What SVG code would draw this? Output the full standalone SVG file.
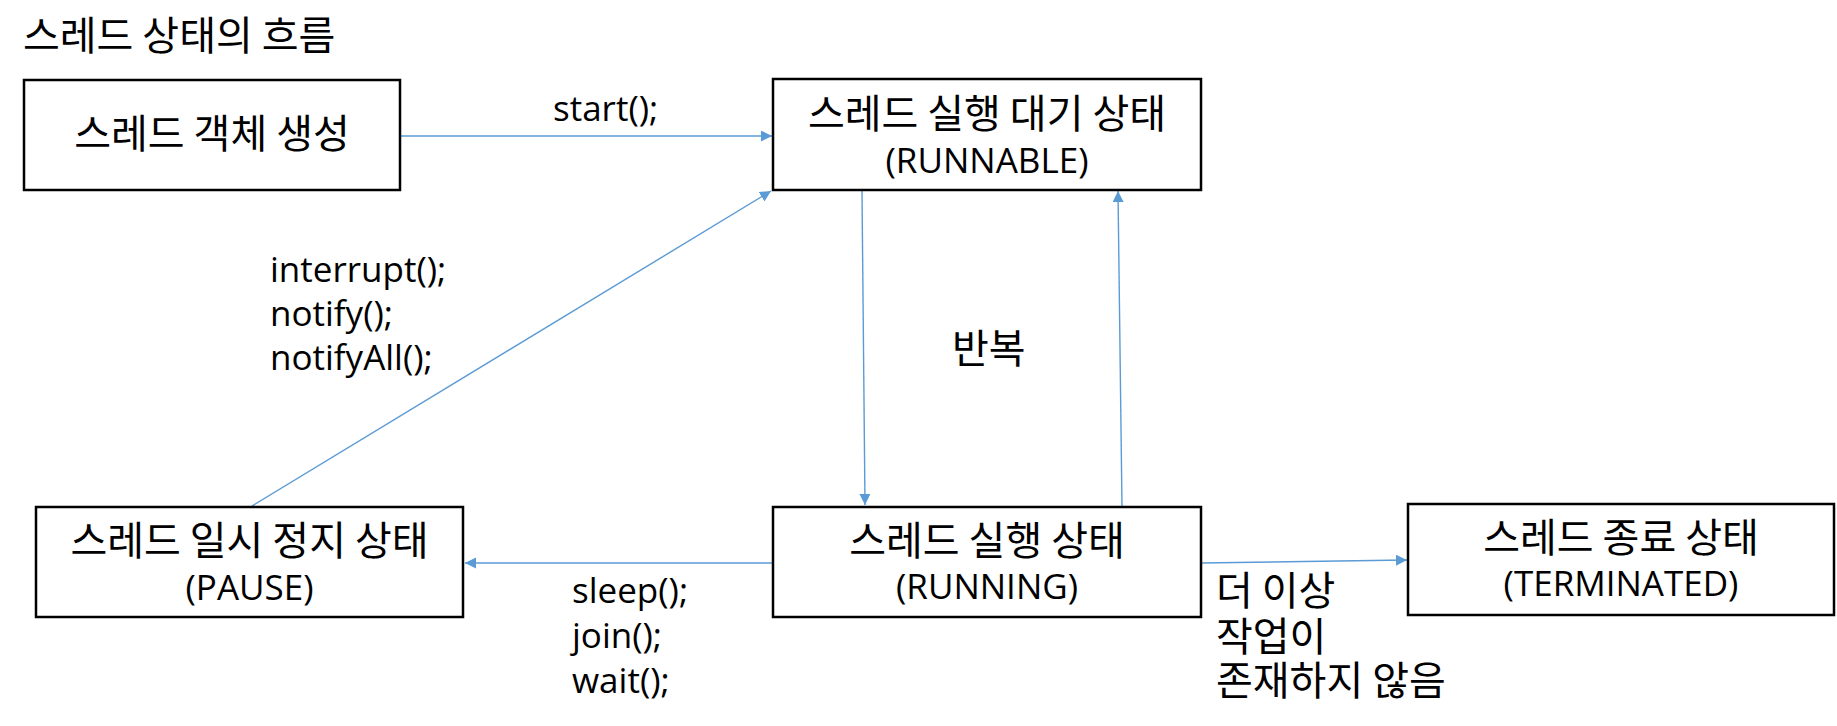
<svg xmlns="http://www.w3.org/2000/svg" width="1837" height="726" viewBox="0 0 1837 726">
<style>
.box{fill:#fff;stroke:#000;stroke-width:2.5}
.ko{font-family:"Noto Sans CJK KR","Noto Sans",sans-serif;font-size:40px;fill:#000}
.en{font-family:"Open Sans","Noto Sans CJK KR",sans-serif;font-size:35px;fill:#000}
.c{text-anchor:middle}
.arr{stroke:#5b9bd5;stroke-width:1.4;fill:none;marker-end:url(#ah)}
</style>
<defs>
<marker id="ah" markerUnits="userSpaceOnUse" markerWidth="12" markerHeight="12" refX="11" refY="5.5" orient="auto">
<path d="M0,0 L11,5.5 L0,11 z" fill="#5b9bd5"/>
</marker>
</defs>
<rect width="1837" height="726" fill="#fff"/>
<text class="ko" x="23" y="50">스레드 상태의 흐름</text>
<g id="connectors">
<line class="arr" x1="400" y1="136" x2="772" y2="136"/>
<line class="arr" x1="252" y1="506" x2="771" y2="191"/>
<line class="arr" x1="862" y1="191" x2="865" y2="505"/>
<line class="arr" x1="1122" y1="506" x2="1118" y2="191"/>
<line class="arr" x1="773" y1="563" x2="465" y2="563"/>
<line class="arr" x1="1201" y1="563" x2="1407" y2="560"/>
<text class="en" x="553" y="121">start();</text>
<text class="en" x="270" y="282">interrupt();</text>
<text class="en" x="270" y="326">notify();</text>
<text class="en" x="270" y="370">notifyAll();</text>
<text class="ko" x="952" y="363">반복</text>
<text class="en" x="572" y="603">sleep();</text>
<text class="en" x="572" y="648">join();</text>
<text class="en" x="572" y="693">wait();</text>
<text class="ko" x="1216" y="605">더 이상</text>
<text class="ko" x="1216" y="651">작업이</text>
<text class="ko" x="1216" y="695">존재하지 않음</text>
</g>
<g id="node-create">
<rect class="box" x="24" y="80" width="376" height="110"/>
<text class="ko c" x="212" y="148">스레드 객체 생성</text>
</g>
<g id="node-runnable">
<rect class="box" x="773" y="79" width="428" height="111"/>
<text class="ko c" x="987" y="128">스레드 실행 대기 상태</text>
<text class="en c" x="987" y="173">(RUNNABLE)</text>
</g>
<g id="node-pause">
<rect class="box" x="36" y="507" width="427" height="110"/>
<text class="ko c" x="249.5" y="555">스레드 일시 정지 상태</text>
<text class="en c" x="249.5" y="600">(PAUSE)</text>
</g>
<g id="node-running">
<rect class="box" x="773" y="507" width="428" height="110"/>
<text class="ko c" x="987" y="555">스레드 실행 상태</text>
<text class="en c" x="987" y="599">(RUNNING)</text>
</g>
<g id="node-terminated">
<rect class="box" x="1408" y="504" width="426" height="111"/>
<text class="ko c" x="1621" y="552">스레드 종료 상태</text>
<text class="en c" x="1621" y="596">(TERMINATED)</text>
</g>
</svg>
